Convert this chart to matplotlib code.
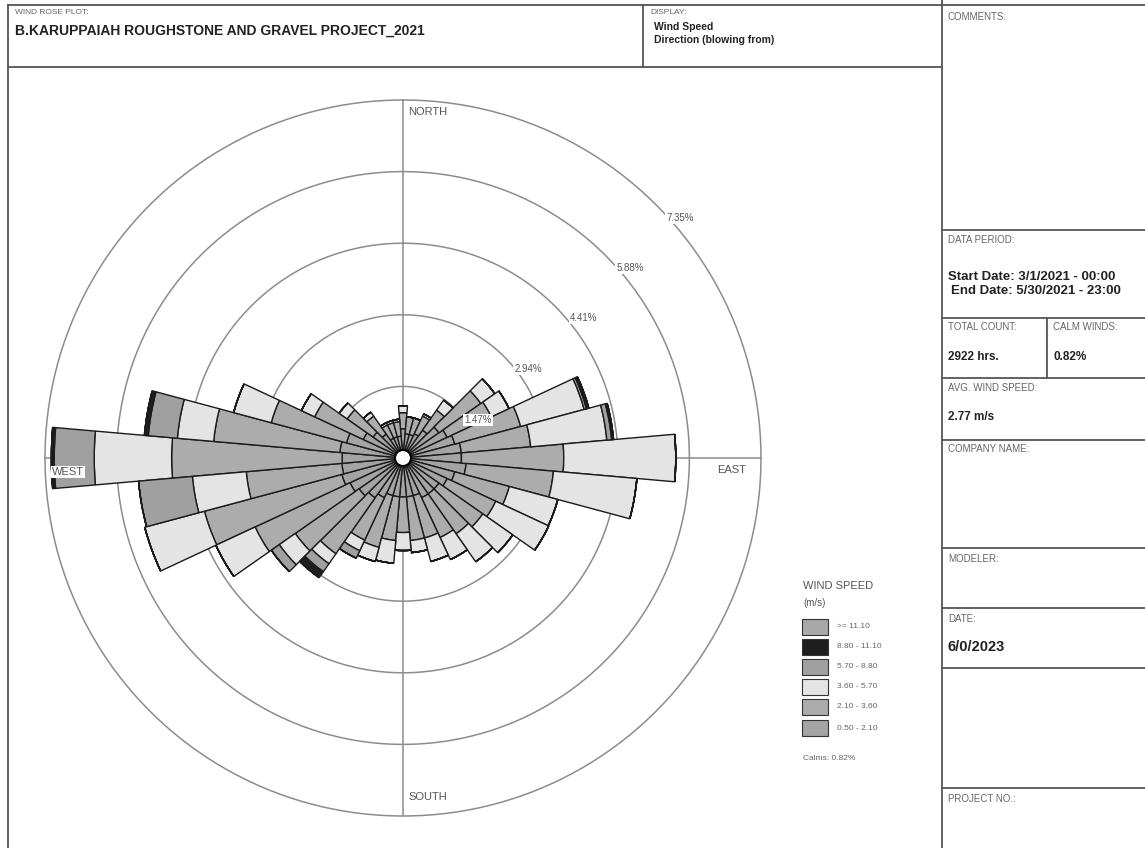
import matplotlib.pyplot as plt
import numpy as np
from matplotlib.lines import Line2D
from matplotlib.patches import Rectangle

W, H = 1145, 848

# wind rose data: frequency (%) per direction for each speed class
directions = np.arange(0, 360, 10)
ws_050_210 = [0.60, 0.50, 0.50, 0.55, 0.70, 0.90, 1.00, 1.10, 1.20, 1.20, 1.30, 1.10,
              1.00, 0.90, 0.90, 0.90, 0.80, 0.80, 0.80, 0.80, 0.80, 0.90, 1.00, 1.10,
              1.20, 1.30, 1.26, 1.25, 1.30, 1.20, 0.90, 0.75, 0.60, 0.45, 0.45, 0.45]
ws_210_360 = [0.33, 0.35, 0.35, 0.40, 0.50, 1.05, 1.00, 1.40, 1.43, 2.10, 1.80, 1.16,
              1.10, 1.10, 1.00, 0.90, 0.90, 0.90, 0.73, 0.90, 1.10, 0.96, 1.40, 1.60,
              2.15, 2.92, 1.97, 3.50, 2.60, 1.60, 1.10, 0.65, 0.45, 0.30, 0.30, 0.30]
ws_360_570 = [0.14, 0.00, 0.00, 0.05, 0.25, 0.35, 0.40, 1.35, 1.57, 2.30, 1.72, 1.03,
              1.20, 0.75, 0.70, 0.50, 0.50, 0.25, 0.37, 0.47, 0.30, 0.24, 0.25, 0.40,
              0.89, 1.27, 1.11, 1.59, 0.75, 0.80, 0.30, 0.20, 0.10, 0.05, 0.05, 0.05]
ws_570_880 = [0.00, 0.00, 0.00, 0.00, 0.00, 0.00, 0.00, 0.05, 0.10, 0.00, 0.00, 0.00,
              0.00, 0.00, 0.00, 0.00, 0.00, 0.00, 0.00, 0.00, 0.00, 0.17, 0.20, 0.20,
              0.00, 0.00, 1.11, 0.82, 0.60, 0.00, 0.00, 0.00, 0.00, 0.00, 0.00, 0.00]
ws_880_1110 = [0.00] * 7 + [0.05, 0.04] + [0.00] * 13 + [0.15] + [0.00] * 4 + \
              [0.06, 0.08] + [0.00] * 7
ws_1110 = [0.00] * 36

speed_labels = ['0.50 - 2.10', '2.10 - 3.60', '3.60 - 5.70',
                '5.70 - 8.80', '8.80 - 11.10', '>= 11.10']
speed_colors = ['#a4a4a4', '#acacac', '#e4e4e4', '#a0a0a0', '#1e1e1e', '#a8a8a8']
ring_values = [1.47, 2.94, 4.41, 5.88, 7.35]
ring_label_xy = [(478, 420), (528, 369), (584, 318), (630, 268), (680, 218)]

calm_pct = 0.82

fig = plt.figure(figsize=(W / 100, H / 100), dpi=100)
plt.rcParams['font.family'] = ['Liberation Sans', 'DejaVu Sans']


def fx(x):
    return x / W


def fy(y):
    return 1 - y / H


def hline(x0, x1, y, lw=1.3, c='#555555'):
    fig.add_artist(Line2D([fx(x0), fx(x1)], [fy(y), fy(y)], lw=lw, color=c))


def vline(x, y0, y1, lw=1.3, c='#555555'):
    fig.add_artist(Line2D([fx(x), fx(x)], [fy(y0), fy(y1)], lw=lw, color=c))


def txt(x, y, s, size=7, bold=False, color='#666666', ha='left', **kw):
    return fig.text(fx(x), fy(y), s, fontsize=size, color=color, ha=ha, va='center',
                    fontweight='bold' if bold else 'normal', **kw)


# frame
hline(8, W, 5)
hline(8, 942, 67)
vline(8, 5, H)
vline(643, 5, 67)
vline(942, 0, H)
for yy in [230, 318, 378, 440, 548, 608, 668, 788]:
    hline(942, W, yy)
vline(1047, 318, 378)

# header text
txt(15, 13, 'WIND ROSE PLOT:', 6)
txt(15, 31, 'B.KARUPPAIAH ROUGHSTONE AND GRAVEL PROJECT_2021', 10, True, '#222222')
txt(650, 13, 'DISPLAY:', 6)
txt(654, 27, 'Wind Speed', 7.5, True, '#222222')
txt(654, 40, 'Direction (blowing from)', 7.5, True, '#222222')

# right column
txt(948, 17, 'COMMENTS:')
txt(948, 240, 'DATA PERIOD:')
txt(948, 277, 'Start Date: 3/1/2021 - 00:00', 9.5, True, '#222222')
txt(951, 291, 'End Date: 5/30/2021 - 23:00', 9.5, True, '#222222')
txt(948, 327, 'TOTAL COUNT:')
txt(1053, 327, 'CALM WINDS:')
txt(948, 357, '2922 hrs.', 8.5, True, '#222222')
txt(1053, 357, '0.82%', 8.5, True, '#222222')
txt(948, 388, 'AVG. WIND SPEED:')
txt(948, 417, '2.77 m/s', 8.5, True, '#222222')
txt(948, 449, 'COMPANY NAME:')
txt(948, 559, 'MODELER:')
txt(948, 619, 'DATE:')
txt(948, 647, '6/0/2023', 10.5, True, '#222222')
txt(948, 799, 'PROJECT NO.:')

# wind rose axes
cx, cy, R = 403, 458, 358
ax = fig.add_axes([fx(cx - R), fy(cy + R), 2 * R / W, 2 * R / H], projection='polar')
ax.set_theta_zero_location('N')
ax.set_theta_direction(-1)
ax.set_ylim(0, ring_values[-1])
ax.set_axis_off()

t = np.linspace(0, 2 * np.pi, 400)
for rv in ring_values:
    ax.plot(t, np.full_like(t, rv), color='#8c8c8c', lw=1.1, zorder=1, clip_on=False)
for a in [0, 90, 180, 270]:
    ax.plot([np.radians(a)] * 2, [0, ring_values[-1]], color='#8c8c8c', lw=1.1,
            zorder=1, clip_on=False)

theta = np.radians(directions)
bottom = np.zeros(len(directions))
classes = [ws_050_210, ws_210_360, ws_360_570, ws_570_880, ws_880_1110, ws_1110]
for vals, col in zip(classes, speed_colors):
    vals = np.array(vals)
    ax.bar(theta, vals, width=np.radians(10), bottom=bottom, color=col,
           edgecolor='#1a1a1a', lw=1.0, zorder=3)
    bottom = bottom + vals

# calm circle
ax.add_artist(plt.Circle((0.5, 0.5), 8 / (2 * R), transform=ax.transAxes,
                         facecolor='white', edgecolor='black', lw=1.5, zorder=5))

box = dict(facecolor='white', edgecolor='none', pad=0.6)
for rv, (lx, ly) in zip(ring_values, ring_label_xy):
    txt(lx, ly, f'{rv:.2f}%', 7, color='#555555', ha='center', bbox=box, zorder=6)

txt(408, 112, 'NORTH', 8, color='#555555')
txt(408, 797, 'SOUTH', 8, color='#555555')
txt(52, 472, 'WEST', 8, color='#555555', bbox=box, zorder=6)
txt(717, 470, 'EAST', 8, color='#555555')

# legend
txt(803, 586, 'WIND SPEED', 8, color='#555555')
txt(803, 603, '(m/s)', 7, color='#555555')
leg_y = [627, 647, 667, 687, 707, 728]
for yy, lab, col in zip(leg_y, speed_labels[::-1], speed_colors[::-1]):
    fig.add_artist(Rectangle((fx(802), fy(yy + 8)), 26 / W, 16 / H, facecolor=col,
                             edgecolor='#333333', lw=0.8, transform=fig.transFigure))
    txt(837, yy, lab, 6)
txt(803, 758, f'Calms: {calm_pct:.2f}%', 6)

fig.savefig('out.png', dpi=100)
